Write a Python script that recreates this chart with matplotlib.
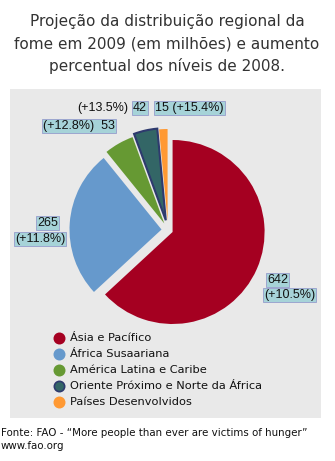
import matplotlib.pyplot as plt
from matplotlib.patches import Rectangle

# fome em 2009 por região (milhões) e aumento sobre 2008 (%)
regioes = ['Ásia e Pacífico', 'África Susaariana', 'América Latina e Caribe',
           'Oriente Próximo e Norte da África', 'Países Desenvolvidos']
milhoes = [642, 265, 53, 42, 15]
aumento = [10.5, 11.8, 12.8, 13.5, 15.4]
cores = ['#a50021', '#6699cc', '#669933', '#336666', '#ff9933']

titulo = ['Projeção da distribuição regional da',
          'fome em 2009 (em milhões) e aumento',
          'percentual dos níveis de 2008.']
fonte = ['Fonte: FAO - \u201cMore people than ever are victims of hunger\u201d',
         'www.fao.org']

W, H = 335, 461
fig = plt.figure(figsize=(W / 100, H / 100), dpi=100)
ax = fig.add_axes([0, 0, 1, 1])


def Y(y):
    # coordenadas em pixels a partir do topo
    return H - y


ax.add_patch(Rectangle((10, Y(418)), 311, 418 - 89, facecolor='#e9e9e9',
                       edgecolor='none', zorder=0))

explode = [5, 6.5, 7.5, 10, 9]
wedges, _ = ax.pie(milhoes, colors=cores, startangle=90, counterclock=False,
                   explode=explode, radius=92, center=(168, Y(230)),
                   wedgeprops=dict(linewidth=0))
wedges[3].set_edgecolor('#2e3a6e')
wedges[3].set_linewidth(1.5)
for w in wedges:
    w.set_zorder(2)

ax.set_xlim(0, W)
ax.set_ylim(0, H)
ax.set_aspect('equal')
ax.axis('off')

for i, linha in enumerate(titulo):
    ax.text(167, Y(22 + 22 * i), linha, ha='center', va='center',
            fontsize=11, color='#333333', family='DejaVu Sans')

caixa = dict(boxstyle='square,pad=0.08', facecolor='#a6d3d8',
             edgecolor='#8c90c8', linewidth=0.5)
kw = dict(fontsize=9, family='Liberation Sans', color='#111111', va='center')

def pct(v):
    return '(+%.1f%%)' % v

ax.text(288, Y(280), str(milhoes[0]), ha='right', bbox=caixa, **kw)
ax.text(264, Y(295), pct(aumento[0]), ha='left', bbox=caixa, **kw)
ax.text(58, Y(223), str(milhoes[1]), ha='right', bbox=caixa, **kw)
ax.text(65, Y(239), pct(aumento[1]), ha='right', bbox=caixa, **kw)
ax.text(43, Y(126), pct(aumento[2]) + '  ' + str(milhoes[2]), ha='left',
        bbox=caixa, **kw)
ax.text(128, Y(108), pct(aumento[3]), ha='right', **kw)
ax.text(133, Y(108), str(milhoes[3]), ha='left', bbox=caixa, **kw)
ax.text(155, Y(108), str(milhoes[4]) + ' ' + pct(aumento[4]), ha='left',
        bbox=caixa, **kw)

for i, (nome, c) in enumerate(zip(regioes, cores)):
    y = Y(338 + 16 * i)
    ec = '#2e3a6e' if i == 3 else c
    ax.scatter([59], [y], s=55, color=c, edgecolors=ec, linewidths=1.2, zorder=3)
    ax.text(70, y, nome, ha='left', va='center', fontsize=8.2,
            family='DejaVu Sans', color='#111111')

for i, linha in enumerate(fonte):
    ax.text(1, Y(433 + 13 * i), linha, ha='left', va='center', fontsize=7.4,
            family='DejaVu Sans', color='#111111')

fig.savefig('out.png', dpi=100)
